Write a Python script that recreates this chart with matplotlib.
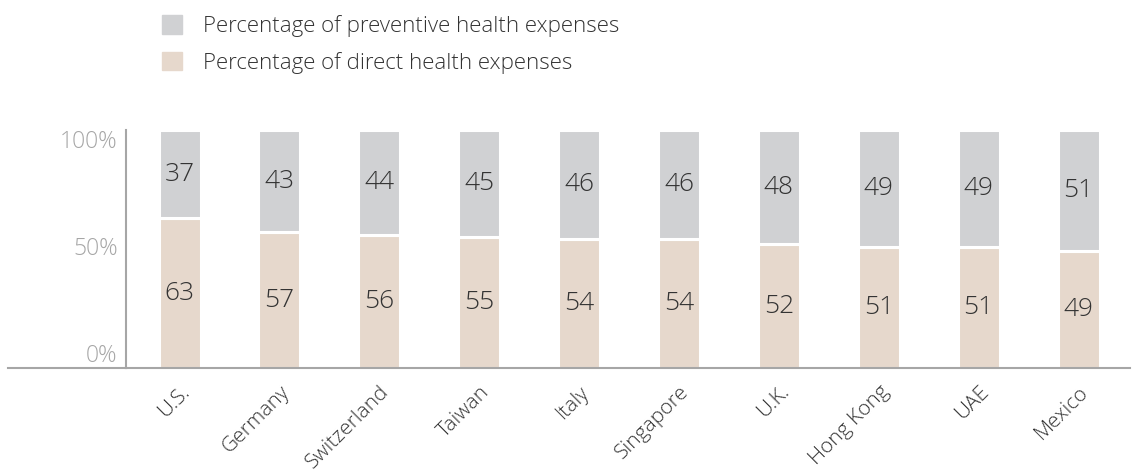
import matplotlib.pyplot as plt
from matplotlib.patches import Patch
from matplotlib.lines import Line2D

plt.rcParams['font.family'] = ['Open Sans', 'DejaVu Sans']
plt.rcParams['font.weight'] = 'light'

countries = ['U.S.', 'Germany', 'Switzerland', 'Taiwan', 'Italy',
             'Singapore', 'U.K.', 'Hong Kong', 'UAE', 'Mexico']
direct = [63, 57, 56, 55, 54, 54, 52, 51, 51, 49]
preventive = [37, 43, 44, 45, 46, 46, 48, 49, 49, 51]

c_prev = '#d0d1d3'
c_direct = '#e6d8cc'
c_text = '#333333'
c_axis = '#a6a6a6'


def main():
    fig = plt.figure(figsize=(11.44, 4.73), dpi=100)
    W, H = 1144, 473
    ax = fig.add_axes([126 / W, (H - 368) / H, (1130 - 126) / W, (368 - 130) / H])

    x = list(range(len(countries)))
    ax.bar(x, direct, width=0.42, color=c_direct, edgecolor='white', linewidth=2.2)
    ax.bar(x, preventive, bottom=direct, width=0.42, color=c_prev,
           edgecolor='white', linewidth=2.2)

    for i in x:
        ax.text(i, direct[i] / 2, str(direct[i]), ha='center', va='center',
                fontsize=19, color=c_text)
        ax.text(i, direct[i] + preventive[i] / 2, str(preventive[i]),
                ha='center', va='center', fontsize=19, color=c_text)

    ax.set_xlim(-0.536, 9.515)
    ax.set_ylim(0, 100)
    ax.set_yticks([0, 50, 100])
    ax.set_yticklabels(['0%', '50%', '100%'])
    for lab, va in zip(ax.get_yticklabels(), ['bottom', 'center', 'top']):
        lab.set_va(va)
    ax.tick_params(axis='y', length=0, pad=6, labelsize=16.5, labelcolor='#a6a6a6')

    ax.set_xticks(x)
    ax.set_xticklabels(countries, rotation=45, ha='right', rotation_mode='anchor')
    ax.tick_params(axis='x', length=0, pad=10, labelsize=15, labelcolor=c_text)

    for s in ['top', 'right']:
        ax.spines[s].set_visible(False)
    ax.spines['left'].set_color(c_axis)
    ax.spines['left'].set_linewidth(1.5)
    ax.spines['bottom'].set_color(c_axis)
    ax.spines['bottom'].set_linewidth(1.5)
    # baseline runs out past the y-axis to the left
    fig.add_artist(Line2D([8 / W, 126 / W], [(H - 368) / H] * 2, color=c_axis,
                          linewidth=1.5, transform=fig.transFigure))

    handles = [Patch(color=c_prev), Patch(color=c_direct)]
    labels = ['Percentage of preventive health expenses',
              'Percentage of direct health expenses']
    fig.legend(handles, labels, loc='upper left', bbox_to_anchor=(142 / W, 1.01),
               frameon=False, fontsize=16, handlelength=0.9, handleheight=0.9,
               handletextpad=0.95, labelspacing=0.65, labelcolor=c_text)

    fig.savefig('out.png', dpi=100)


if __name__ == '__main__':
    main()
